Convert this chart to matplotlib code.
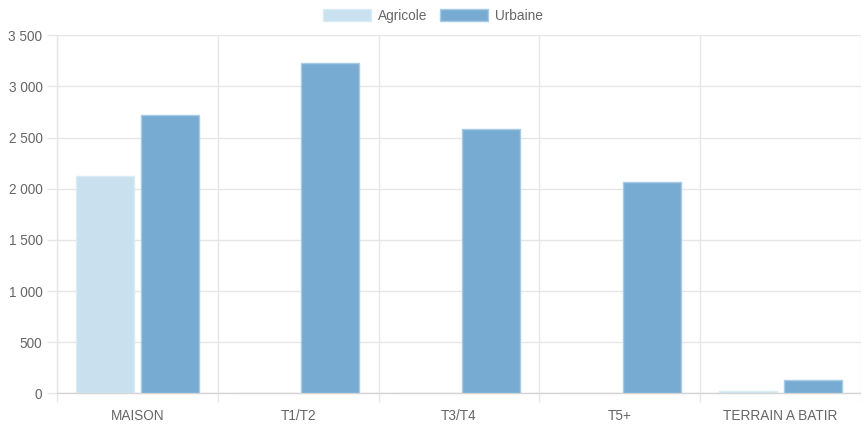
import matplotlib
matplotlib.use("Agg")
import matplotlib.pyplot as plt
from matplotlib.ticker import FuncFormatter, FixedLocator
from matplotlib.patches import Patch
import numpy as np

categories = ["MAISON", "T1/T2", "T3/T4", "T5+", "TERRAIN A BATIR"]
agricole = [2128, 0, 0, 0, 25]
urbaine = [2718, 3229, 2581, 2063, 127]
y_ticks = [0, 500, 1000, 1500, 2000, 2500, 3000, 3500]

col_agri = "#c9e1ee"
col_agri_edge = "#d9ebf4"
col_urb = "#78abd2"
col_urb_edge = "#a6cbe6"
grid_col = "#e6e6e6"
text_col = "#666666"
fs = 9.8

plt.rcParams["font.family"] = ["Liberation Sans", "DejaVu Sans"]

fig = plt.figure(figsize=(8.61, 4.34), dpi=100)
ax = fig.add_axes([57 / 861, 1 - 393.3 / 434, (861 - 57) / 861, (393.3 - 35.3) / 434])

x = np.arange(len(categories))
slot = 0.4
width = 0.36
ax.bar(x - slot / 2, agricole, width, color=col_agri, edgecolor=col_agri_edge, linewidth=1, zorder=3)
ax.bar(x + slot / 2, urbaine, width, color=col_urb, edgecolor=col_urb_edge, linewidth=1, zorder=3)

ax.set_xlim(-0.5, len(categories) - 0.5)
ax.set_ylim(0, 3500)

ax.yaxis.set_major_locator(FixedLocator(y_ticks))
ax.yaxis.set_major_formatter(FuncFormatter(lambda v, p: f"{int(v):,}".replace(",", " ")))
ax.set_xticks(x)
ax.set_xticklabels(categories)
ax.xaxis.set_minor_locator(FixedLocator(np.arange(-0.5, len(categories), 1.0)))

ax.grid(True, axis="y", which="major", color=grid_col, linewidth=1, zorder=0)
ax.grid(True, axis="x", which="minor", color=grid_col, linewidth=1, zorder=0)
ax.set_axisbelow(True)

ax.tick_params(axis="y", which="major", length=7.5, width=1, color=grid_col,
               labelsize=fs, labelcolor=text_col, pad=3)
ax.tick_params(axis="x", which="major", length=0, labelsize=fs, labelcolor=text_col, pad=11)
ax.tick_params(axis="x", which="minor", length=6.5, width=1, color=grid_col)

for side in ["top", "right"]:
    ax.spines[side].set_visible(False)
ax.spines["left"].set_color(grid_col)
ax.spines["bottom"].set_color("#d4d4d4")
ax.spines["left"].set_linewidth(1)
ax.spines["bottom"].set_linewidth(1)

handles = [Patch(facecolor=col_agri, edgecolor=col_agri_edge, label="Agricole"),
           Patch(facecolor=col_urb, edgecolor=col_urb_edge, label="Urbaine")]
leg = fig.legend(handles=handles, loc="center", bbox_to_anchor=(433 / 861, 1 - 16 / 434),
                 ncol=2, frameon=False, fontsize=fs, handlelength=3.5, handleheight=1.0,
                 handletextpad=0.55, columnspacing=0.9, borderpad=0, labelcolor=text_col)

fig.savefig("out.png", dpi=100, facecolor="white")
